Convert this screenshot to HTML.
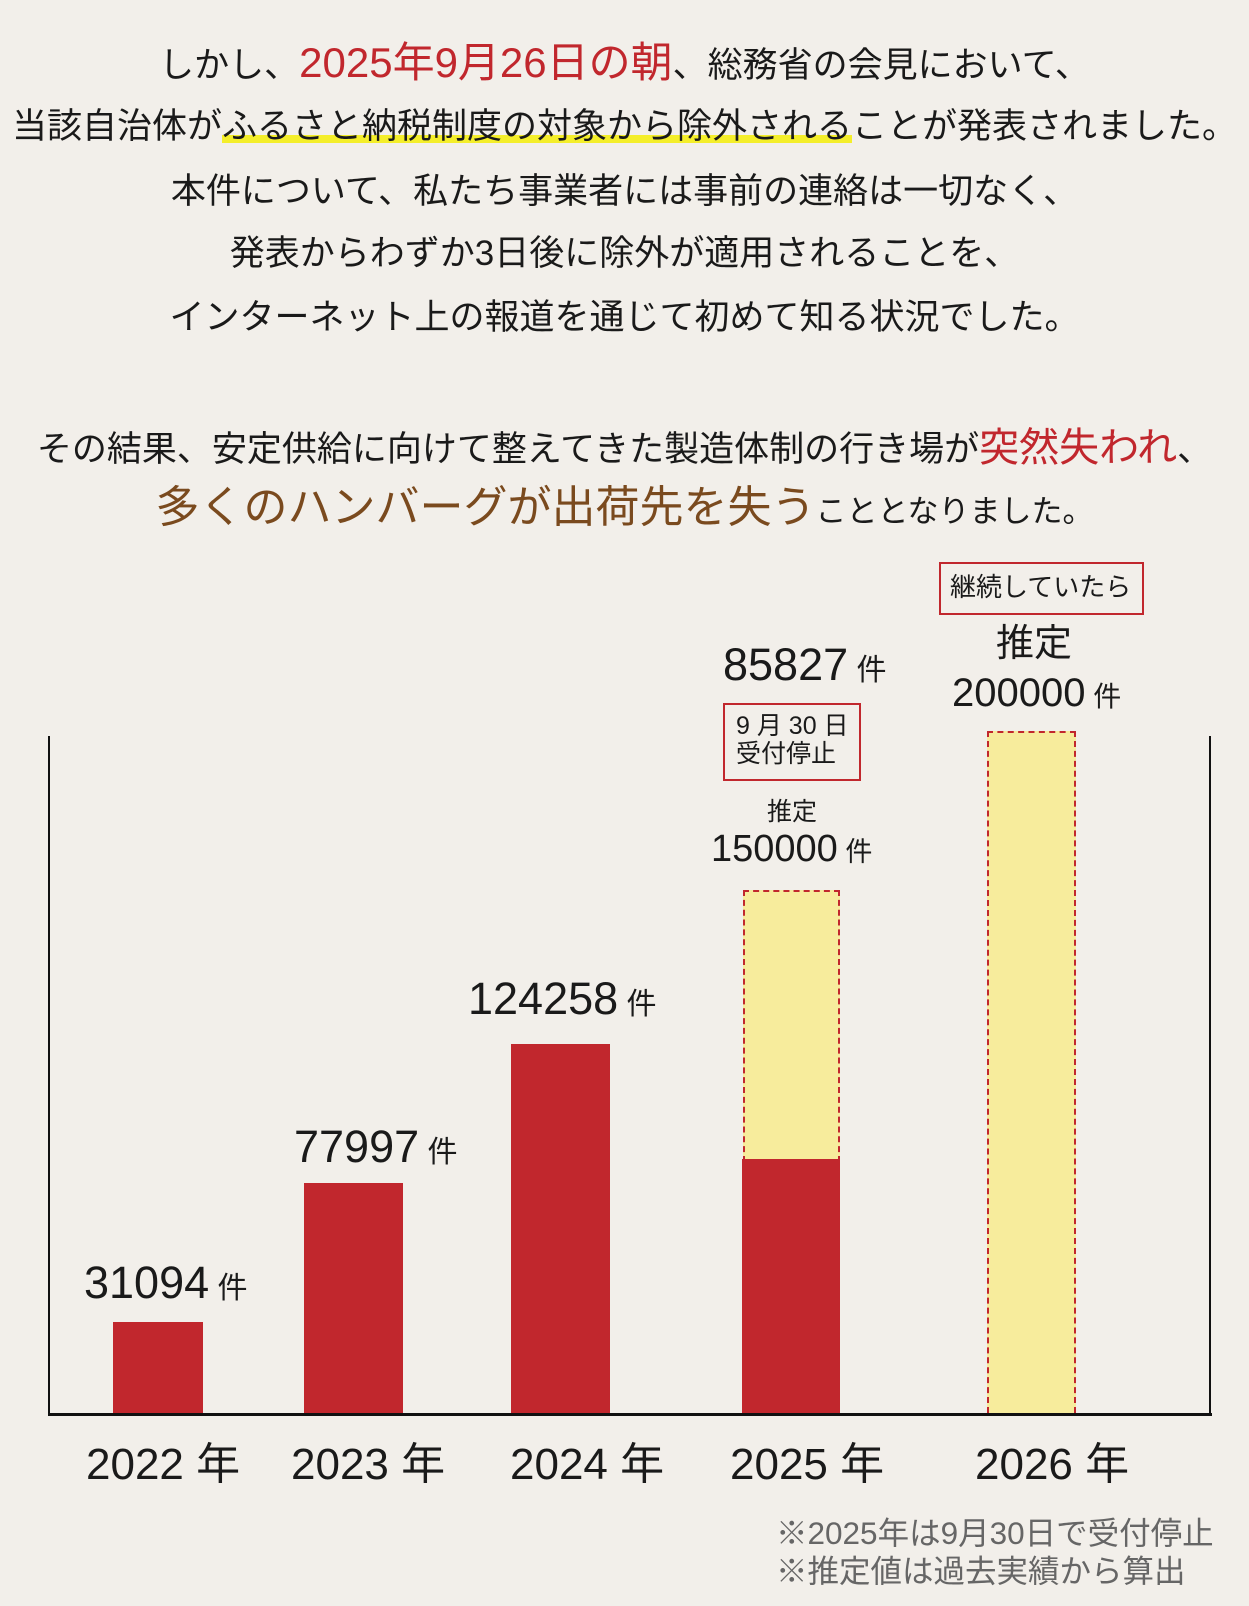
<!DOCTYPE html>
<html><head><meta charset="utf-8"><style>
body{margin:0;width:1249px;height:1606px;background:#f2efea;position:relative;overflow:hidden;font-family:"Liberation Sans","Noto Sans CJK JP",sans-serif;color:#1a1a1a}
.t{position:absolute;left:0;width:1249px;text-align:center;white-space:nowrap;line-height:1;font-size:35px}
.c{display:inline-block}
.a{position:absolute;white-space:nowrap;line-height:1}
.red{color:#c1272d}
.br{color:#7a4a1e}
.hl{background:linear-gradient(transparent 72%,#f4ee2a 72%,#f4ee2a 92%,transparent 92%)}
.bar{position:absolute;background:#c1272d}
.ybar{position:absolute;background:#f7ec9c;border:2px dashed #c1272d;box-sizing:border-box}
.box{position:absolute;border:2px solid #c1272d;box-sizing:border-box}
</style></head><body>
<div class="t" style="top:42px"><span class="c">しかし、<span class="red" style="font-size:42px">2025年9月26日の朝</span>、総務省の会見において、</span></div>
<div class="t" style="top:109px"><span class="c">当該自治体が<span class="hl">ふるさと納税制度の対象から除外される</span>ことが発表されました。</span></div>
<div class="t" style="top:174px"><span class="c">本件について、私たち事業者には事前の連絡は一切なく、</span></div>
<div class="t" style="top:236px"><span class="c">発表からわずか3日後に除外が適用されることを、</span></div>
<div class="t" style="top:300px"><span class="c">インターネット上の報道を通じて初めて知る状況でした。</span></div>
<div class="t" style="top:428px"><span class="c">その結果、安定供給に向けて整えてきた製造体制の行き場が<span class="red" style="font-size:40px">突然失われ</span>、</span></div>
<div class="t" style="top:486px"><span class="c"><span class="br" style="font-size:44px">多くのハンバーグが出荷先を失う</span><span style="font-size:31px">こととなりました。</span></span></div>

<div style="position:absolute;left:48px;top:736px;width:2px;height:680px;background:#111"></div>
<div style="position:absolute;left:1209px;top:736px;width:2px;height:680px;background:#111"></div>
<div style="position:absolute;left:48px;top:1413px;width:1164px;height:3px;background:#111"></div>

<div class="bar" style="left:113px;top:1322px;width:90px;height:91px"></div>
<div class="bar" style="left:304px;top:1183px;width:99px;height:230px"></div>
<div class="bar" style="left:511px;top:1044px;width:99px;height:369px"></div>
<div class="ybar" style="left:743px;top:890px;width:97px;height:272px;border-bottom:none"></div>
<div class="bar" style="left:742px;top:1159px;width:98px;height:254px"></div>
<div class="ybar" style="left:987px;top:731px;width:89px;height:682px;border-bottom:none"></div>

<div class="a" style="left:84px;top:1260px;font-size:45px">31094<span style="font-size:30px"> 件</span></div>
<div class="a" style="left:294px;top:1124px;font-size:45px">77997<span style="font-size:30px"> 件</span></div>
<div class="a" style="left:468px;top:976px;font-size:45px">124258<span style="font-size:30px"> 件</span></div>
<div class="a" style="left:723px;top:642px;font-size:45px">85827<span style="font-size:30px"> 件</span></div>
<div class="box" style="left:723px;top:703px;width:138px;height:78px"></div>
<div class="a" style="left:736px;top:713px;font-size:25px;line-height:1.1">9 月 30 日<br>受付停止</div>
<div class="a" style="left:767px;top:800px;font-size:25px">推定</div>
<div class="a" style="left:711px;top:830px;font-size:38px">150000<span style="font-size:27px"> 件</span></div>
<div class="box" style="left:939px;top:562px;width:205px;height:53px"></div>
<div class="a" style="left:950px;top:574px;font-size:26px">継続していたら</div>
<div class="a" style="left:996px;top:625px;font-size:38px">推定</div>
<div class="a" style="left:952px;top:673px;font-size:40px">200000<span style="font-size:28px"> 件</span></div>

<div class="a" style="left:86px;top:1443px;font-size:44px">2022 年</div>
<div class="a" style="left:291px;top:1443px;font-size:44px">2023 年</div>
<div class="a" style="left:510px;top:1443px;font-size:44px">2024 年</div>
<div class="a" style="left:730px;top:1443px;font-size:44px">2025 年</div>
<div class="a" style="left:975px;top:1443px;font-size:44px">2026 年</div>

<div class="a" style="left:776px;top:1514px;font-size:31.5px;color:#666;line-height:1.22">※2025年は9月30日で受付停止<br>※推定値は過去実績から算出</div>
</body></html>
